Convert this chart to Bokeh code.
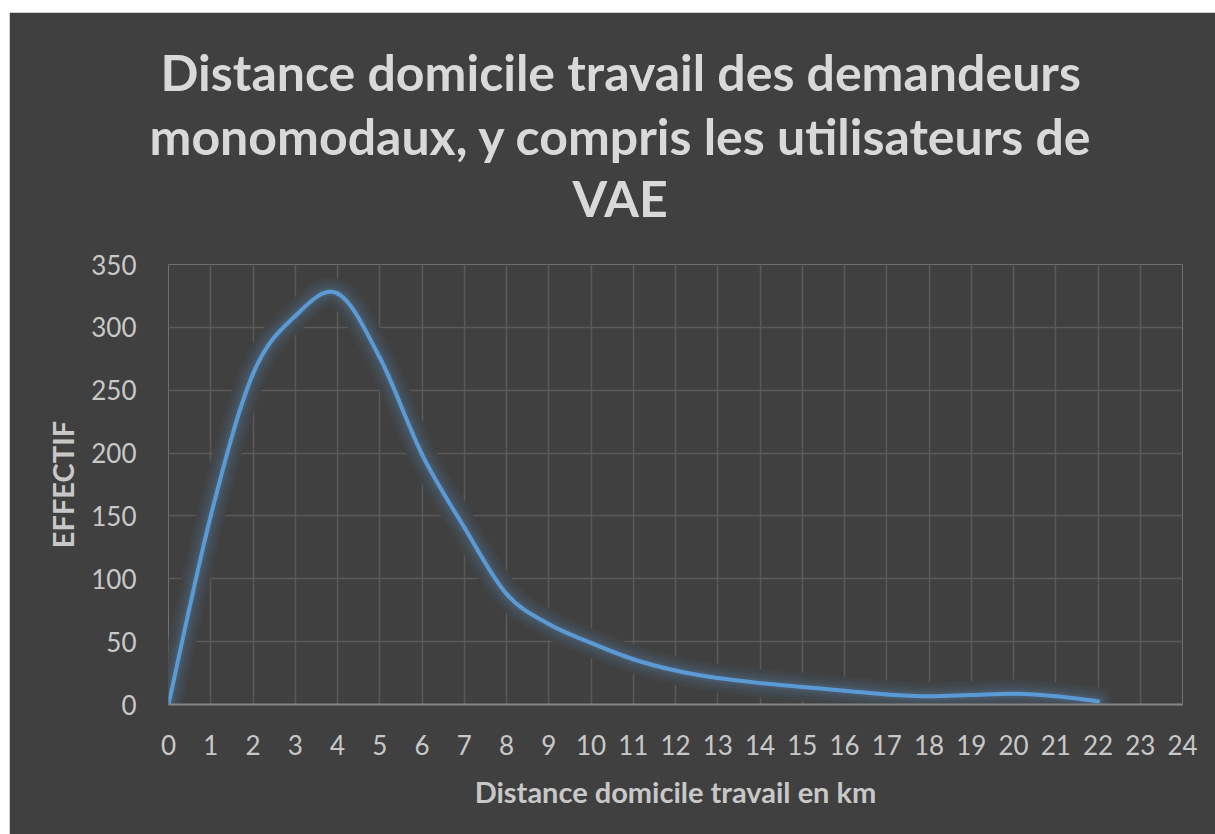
from bokeh.plotting import figure
from bokeh.layouts import column, row, Spacer
from bokeh.models import FixedTicker, ColumnDataSource, Range1d, Title
from bokeh.embed import file_html
from bokeh.resources import INLINE

# ---- data ----
title_lines = ["Distance domicile travail des demandeurs",
               "monomodaux, y compris les utilisateurs de",
               "VAE"]
x_label = "Distance domicile travail en km"
y_label = "EFFECTIF"
distance_km = [0, 1, 2, 3, 4, 5, 6, 7, 8, 9, 10, 11, 12, 13, 14, 15, 16, 17, 18, 19, 20, 21, 22]
effectif = [0, 150, 263, 309, 327, 276, 199, 141, 88, 64, 49, 36, 27, 21, 17, 14, 11, 8, 6.5, 7.5, 8.5, 6.5, 2.5]
x_ticks = list(range(0, 25))
y_ticks = [0, 50, 100, 150, 200, 250, 300, 350]

BG = "#404040"
FONT = "Lato"
PAD_L, PAD_T = 9, 12

p = figure(width=1215 - PAD_L, height=834 - PAD_T, output_backend="svg", toolbar_location=None,
           x_range=Range1d(0, 24), y_range=Range1d(0, 350), title=None,
           min_border_left=168 - PAD_L, min_border_right=33,
           min_border_top=264 - PAD_T, min_border_bottom=130)
p.background_fill_color = BG
p.border_fill_color = BG
p.outline_line_color = None

# titles: stacked outward from the frame; a blank spacer title sits nearest the frame
p.add_layout(Title(text=" ", text_font_size="10px", standoff=24, text_color=BG), "above")
title_offsets = [-8, -19, 404]
title_standoffs = [3, 0, 0]
for line, off, so in reversed(list(zip(title_lines, title_offsets, title_standoffs))):
    p.add_layout(Title(text=line, align="left", offset=off, standoff=so,
                       text_font=FONT, text_font_style="bold", text_font_size="50px",
                       text_color="#d9d9d9"), "above")

# grid
p.xgrid.ticker = FixedTicker(ticks=x_ticks)
p.ygrid.ticker = FixedTicker(ticks=y_ticks)
p.xgrid.grid_line_color = "#5a5a5a"
p.ygrid.grid_line_color = "#5a5a5a"
p.xgrid.grid_line_width = 1.5
p.ygrid.grid_line_width = 1.5

# axes
p.xaxis.ticker = FixedTicker(ticks=x_ticks)
p.yaxis.ticker = FixedTicker(ticks=y_ticks)
for ax in (p.xaxis[0], p.yaxis[0]):
    ax.major_tick_line_color = None
    ax.minor_tick_line_color = None
    ax.major_label_text_font = FONT
    ax.major_label_text_font_size = "26px"
    ax.major_label_text_color = "#c8c8c8"
    ax.axis_label_text_font = FONT
    ax.axis_label_text_font_style = "bold"
    ax.axis_label_text_font_size = "29px"
    ax.axis_label_text_color = "#c8c8c8"
p.yaxis.axis_line_color = None
p.xaxis.axis_line_color = "#858585"
p.xaxis.axis_line_width = 2
p.xaxis.axis_label = x_label
p.yaxis.axis_label = y_label
p.xaxis.major_label_standoff = 24
p.yaxis.major_label_standoff = 26
p.xaxis.axis_label_standoff = 16
p.yaxis.axis_label_standoff = 8

# smooth curve as bezier segments (Catmull-Rom control points from the data)
n = len(distance_km)
segs = dict(x0=[], y0=[], x1=[], y1=[], cx0=[], cy0=[], cx1=[], cy1=[])
for i in range(n - 1):
    xa, ya = distance_km[i], effectif[i]
    xb, yb = distance_km[i + 1], effectif[i + 1]
    xp, yp = (distance_km[i - 1], effectif[i - 1]) if i > 0 else (xa, ya)
    xn, yn = (distance_km[i + 2], effectif[i + 2]) if i + 2 < n else (xb, yb)
    segs["x0"].append(xa); segs["y0"].append(ya)
    segs["x1"].append(xb); segs["y1"].append(yb)
    segs["cx0"].append(xa + (xb - xp) / 6); segs["cy0"].append(ya + (yb - yp) / 6)
    segs["cx1"].append(xb - (xn - xa) / 6); segs["cy1"].append(yb - (yn - ya) / 6)
src = ColumnDataSource(segs)

# glow layers (pre-blended opaque colors over the dark background)
def blend(a):
    c1 = (0x40, 0x40, 0x40)
    c2 = (0x5B, 0x9B, 0xD5)
    return "#%02x%02x%02x" % tuple(int(round(c1[k] + (c2[k] - c1[k]) * a)) for k in range(3))

for w, a in [(28, 0.05), (22, 0.09), (17, 0.14), (12, 0.20), (8, 0.28)]:
    p.bezier(x0="x0", y0="y0", x1="x1", y1="y1", cx0="cx0", cy0="cy0", cx1="cx1", cy1="cy1",
             source=src, line_color=blend(a), line_width=w, line_cap="round")
p.bezier(x0="x0", y0="y0", x1="x1", y1="y1", cx0="cx0", cy0="cy0", cx1="cx1", cy1="cy1",
         source=src, line_color="#5B9BD5", line_width=4, line_cap="round")

layout = column(Spacer(height=PAD_T, width=1215),
                row(Spacer(width=PAD_L, height=834 - PAD_T), p, spacing=0), spacing=0)
open("out.html", "w").write(file_html(layout, INLINE))
